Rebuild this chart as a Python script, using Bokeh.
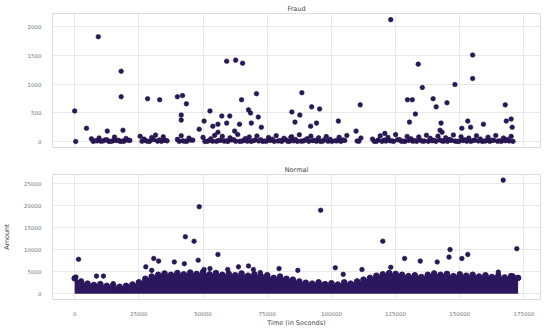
from bokeh.plotting import figure
from bokeh.layouts import column
from bokeh.models import Range1d, FixedTicker
from bokeh.embed import file_html
from bokeh.resources import INLINE

# ---------------- data ----------------
x_ticks = [0, 25000, 50000, 75000, 100000, 125000, 150000, 175000]
fraud_y_ticks = [0, 500, 1000, 1500, 2000]
normal_y_ticks = [0, 5000, 10000, 15000, 20000, 25000]

# fraud transactions: scattered larger amounts
fraud_time = [0, 400, 4600, 9200, 12700, 18100, 18100, 18800, 28400, 33100,
              40000, 42000, 43500, 41500, 41500, 48500, 50400, 52700, 53800, 55800,
              57300, 59200, 62700, 65400, 65000, 59200, 60400, 64200, 67700, 68500,
              70800, 71500, 68800, 72700, 62300, 55800, 84200, 84600, 87700, 85800,
              88500, 92300, 95400, 91900, 94200, 102700, 111200, 109600, 120800, 123100,
              129600, 131500, 132700, 130400, 133800, 135400, 139600, 140800, 145000, 142700,
              148100, 150800, 153100, 154200, 155000, 155000, 159200, 167700, 168100, 170000,
              170400, 142300, 143100]
fraud_amount = [532, 0, 230, 1826, 180, 1225, 780, 195, 745, 727,
                780, 800, 656, 460, 372, 213, 355, 532, 266, 300,
                443, 1400, 1418, 1365, 727, 320, 443, 300, 550, 496,
                833, 425, 320, 248, 180, 160, 70, 514, 460, 337,
                850, 603, 567, 266, 320, 355, 638, 180, 140, 2125,
                727, 727, 478, 337, 1348, 940, 745, 603, 674, 320,
                993, 230, 355, 248, 1507, 1099, 300, 638, 355, 390,
                248, 195, 160]

# fraud transactions: the dense row of small amounts
fraud_low_time = [6500, 8000, 9500, 11000, 12500, 14000, 15500, 17000, 18500, 20000,
                  21500, 25500, 27000, 28500, 30000, 31500, 33000, 34500, 36000, 40000,
                  41500, 43000, 44500, 46000, 50000, 51500, 53000, 54500, 56000, 57500,
                  59000, 60500, 62000, 63500, 65000, 66500, 68000, 69500, 71000, 72500,
                  74000, 75500, 77000, 78500, 80000, 81500, 83000, 84500, 86000, 87500,
                  89000, 90500, 92000, 93500, 95000, 96500, 98000, 99500, 101500, 103000,
                  104500, 106000, 110000, 111500, 116000, 117500, 119000, 120500, 122000, 123500,
                  125000, 126500, 128000, 129500, 131000, 132500, 134000, 135500, 137000, 138500,
                  140000, 141500, 143000, 144500, 146000, 147500, 149000, 150500, 152000, 153500,
                  155000, 156500, 158000, 159500, 161000, 162500, 164000, 165500, 167000, 168500,
                  170000]
fraud_low_amount = [45, 12, 60, 8, 30, 1, 75, 20, 5, 52,
                    18, 90, 40, 2, 66, 110, 25, 80, 10, 35,
                    99, 3, 58, 22, 70, 1, 44, 105, 15, 88,
                    9, 62, 30, 120, 4, 50, 77, 11, 95, 28,
                    6, 68, 39, 100, 14, 55, 1, 82, 33, 115,
                    7, 48, 92, 19, 64, 2, 85, 37, 12, 73,
                    26, 104, 8, 59, 41, 1, 96, 23, 70, 10,
                    118, 31, 5, 87, 46, 16, 78, 3, 108, 54,
                    20, 92, 9, 65, 36, 112, 1, 80, 27, 58,
                    13, 99, 42, 6, 74, 21, 103, 11, 60, 34,
                    88]

# fraud transactions: second row of very small amounts
fraud_tiny_time = [7200, 8800, 10200, 11800, 13300, 14800, 16200, 17700, 19200, 20800,
                   26200, 27700, 29200, 30800, 32300, 33800, 35200, 40700, 42200, 43700,
                   45200, 50700, 52200, 53700, 55200, 56700, 58200, 59700, 61200, 62700,
                   64200, 65700, 67200, 68700, 70200, 71700, 73200, 74700, 76200, 77700,
                   79200, 80700, 82200, 83700, 85200, 86700, 88200, 89700, 91200, 92700,
                   94200, 95700, 97200, 98700, 100200, 102200, 103700, 105200, 110700, 116700,
                   118200, 119700, 121200, 122700, 124200, 125700, 127200, 128700, 130200, 131700,
                   133200, 134700, 136200, 137700, 139200, 140700, 142200, 143700, 145200, 146700,
                   148200, 149700, 151200, 152700, 154200, 155700, 157200, 158700, 160200, 161700,
                   163200, 164700, 166200, 167700, 169200, 170700]
fraud_tiny_amount = [1, 10, 3, 25, 1, 8, 15, 1, 4, 20,
                     2, 12, 1, 30, 5, 1, 18, 1, 9, 2,
                     24, 1, 11, 3, 1, 19, 6, 1, 27, 2,
                     1, 14, 4, 1, 22, 8, 1, 3, 16, 1,
                     7, 1, 29, 2, 10, 1, 5, 21, 1, 13,
                     2, 1, 26, 4, 1, 9, 1, 17, 3, 1,
                     23, 1, 6, 12, 1, 28, 2, 1, 15, 4,
                     1, 20, 7, 1, 11, 1, 25, 3, 1, 18,
                     5, 1, 14, 2, 1, 22, 8, 1, 10, 1,
                     19, 3, 1, 12, 6, 1]

# normal transactions: upper edge of the dense mass
normal_edge_time = [0, 2500, 5000, 7500, 10000, 12500, 15000, 17500, 20000, 22500,
                    25000, 27500, 30000, 32500, 35000, 37500, 40000, 42500, 45000, 47500,
                    50000, 52500, 55000, 57500, 60000, 62500, 65000, 67500, 70000, 72500,
                    75000, 77500, 80000, 82500, 85000, 87500, 90000, 92500, 95000, 97500,
                    100000, 102500, 105000, 107500, 110000, 112500, 115000, 117500, 120000, 122500,
                    125000, 127500, 130000, 132500, 135000, 137500, 140000, 142500, 145000, 147500,
                    150000, 152500, 155000, 157500, 160000, 162500, 165000, 167500, 170000, 172700]
normal_edge_amount = [3500, 2800, 2300, 2000, 2200, 1800, 1900, 1600, 1800, 2100,
                      2600, 3400, 3900, 4300, 4600, 4300, 4700, 4400, 4800, 4500,
                      4900, 4400, 4700, 4300, 4500, 4200, 4600, 4100, 4400, 4000,
                      4200, 3600, 3900, 3400, 3200, 2800, 2500, 2300, 2600, 2200,
                      2400, 2100, 2600, 2300, 2800, 3200, 3600, 4100, 4400, 4700,
                      4500, 4300, 4000, 4200, 3800, 4300, 4600, 4300, 4500, 4000,
                      4400, 4100, 4300, 3900, 4200, 3800, 4100, 3700, 4000, 3600]

# normal transactions: isolated larger amounts
normal_time = [1500, 500, 8500, 11200, 15000, 27700, 30000, 30800, 32700, 38800,
               43100, 46500, 48500, 48100, 42700, 55800, 50400, 52700, 59600, 63800,
               67700, 69600, 72300, 79600, 86900, 95800, 101500, 104600, 111900, 120000,
               123100, 128500, 134600, 141200, 146200, 145800, 150800, 153100, 166900, 172200,
               165000, 170800]
normal_amount = [7800, 3800, 4000, 4000, 2300, 6100, 5300, 8000, 7400, 7200,
                 12900, 11900, 19700, 7600, 6800, 8900, 5500, 5700, 5500, 6100,
                 6300, 5500, 4800, 5700, 5300, 18900, 5900, 4400, 5500, 11900,
                 6000, 8000, 7400, 7200, 10000, 8300, 8000, 8900, 25700, 10200,
                 4900, 4000]

# ---------------- styling ----------------
COLOR = "#2b175e"
EDGE = "#1c1038"
FONT = "DejaVu Sans"
TICK_COLOR = "#777777"
GRID = "#e8e8e8"
MSIZE = 4.6

x_range = Range1d(-8640, 181430)


def style(p):
    p.outline_line_color = "#dddddd"
    p.background_fill_color = "white"
    p.border_fill_color = "white"
    for ax in p.xaxis + p.yaxis:
        ax.axis_line_color = None
        ax.major_tick_line_color = None
        ax.minor_tick_line_color = None
        ax.major_label_text_font = FONT
        ax.major_label_text_font_size = "5.5px"
        ax.major_label_text_color = TICK_COLOR
        ax.major_label_standoff = 5
        ax.axis_label_text_font = FONT
        ax.axis_label_text_font_size = "6.5px"
        ax.axis_label_text_font_style = "normal"
        ax.axis_label_text_color = "#444444"
    p.xgrid.grid_line_color = GRID
    p.ygrid.grid_line_color = GRID
    p.title.align = "center"
    p.title.text_font = FONT
    p.title.text_font_size = "6.5px"
    p.title.text_font_style = "normal"
    p.title.text_color = "#444444"
    p.title.standoff = 2
    p.title.offset = 20


# top panel: Fraud
p1 = figure(width=544, height=155, output_backend="svg", toolbar_location=None,
            x_range=x_range, y_range=Range1d(-106, 2232), title="Fraud",
            min_border_left=45, min_border_right=4, min_border_top=13,
            min_border_bottom=8)
style(p1)
p1.xaxis.visible = False
p1.xgrid.ticker = FixedTicker(ticks=x_ticks)
p1.yaxis.ticker = FixedTicker(ticks=fraud_y_ticks)
p1.yaxis.major_label_overrides = {t: str(t) for t in fraud_y_ticks}
p1.scatter(fraud_tiny_time, fraud_tiny_amount, size=MSIZE, fill_color=COLOR,
           line_color=EDGE, line_width=0.6)
p1.scatter(fraud_low_time, fraud_low_amount, size=MSIZE, fill_color=COLOR,
           line_color=EDGE, line_width=0.6)
p1.scatter(fraud_time, fraud_amount, size=MSIZE, fill_color=COLOR,
           line_color=EDGE, line_width=0.6)

# bottom panel: Normal
p2 = figure(width=544, height=174, output_backend="svg", toolbar_location=None,
            x_range=x_range, y_range=Range1d(-1285, 26976), title="Normal",
            min_border_left=45, min_border_right=4, min_border_top=19,
            min_border_bottom=22)
style(p2)
p2.xaxis.ticker = FixedTicker(ticks=x_ticks)
p2.xaxis.major_label_overrides = {t: str(t) for t in x_ticks}
p2.yaxis.ticker = FixedTicker(ticks=normal_y_ticks)
p2.yaxis.major_label_overrides = {t: str(t) for t in normal_y_ticks}
p2.xaxis.axis_label = "Time (in Seconds)"
p2.xaxis.axis_label_standoff = 0
p2.yaxis.axis_label = "Amount"
p2.yaxis.axis_label_standoff = 10
p2.varea(x=normal_edge_time, y1=[0] * len(normal_edge_time), y2=normal_edge_amount,
         fill_color=COLOR)
p2.scatter(normal_edge_time, normal_edge_amount, size=MSIZE + 1, fill_color=COLOR,
           line_color=COLOR)
p2.scatter(normal_time, normal_amount, size=MSIZE, fill_color=COLOR,
           line_color=EDGE, line_width=0.6)

layout = column(p1, p2, spacing=0)
open("out.html", "w").write(file_html(layout, INLINE))
